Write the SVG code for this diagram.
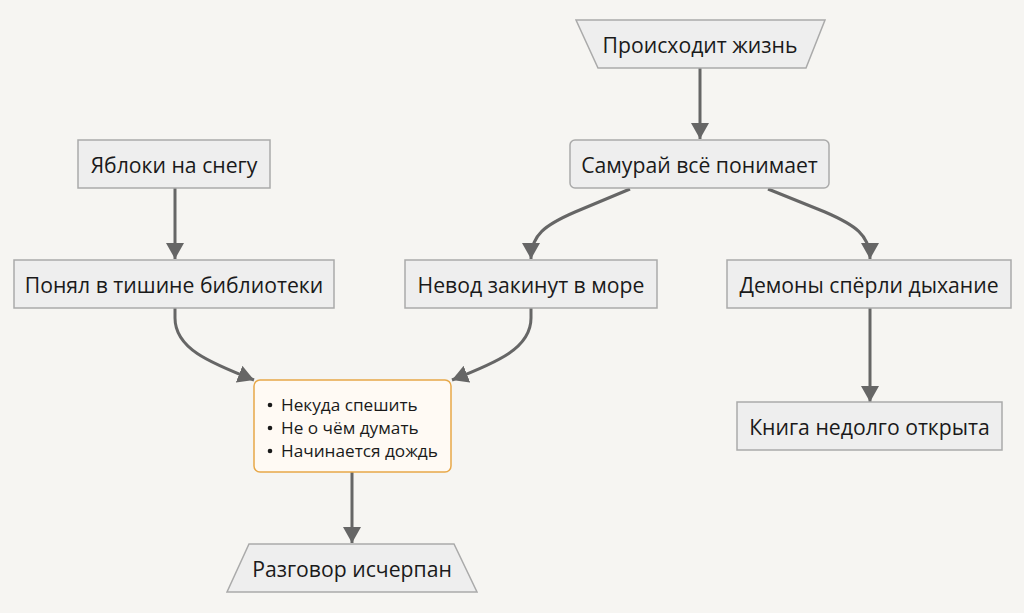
<svg xmlns="http://www.w3.org/2000/svg" width="1024" height="613" viewBox="0 0 1024 613">
<defs>
<style>
.bg{fill:#f6f5f2}
.n{fill:#eeeeee;stroke:#aaaaaa;stroke-width:1.5}
.lst{fill:#fffaf4;stroke:#e8a848;stroke-width:1.5}
.t{font-family:"Open Sans","Noto Sans","DejaVu Sans",sans-serif;font-size:21.2px;fill:#1a1a1a;text-anchor:middle;dominant-baseline:central}
.li{font-family:"Open Sans","Noto Sans","DejaVu Sans",sans-serif;font-size:17.2px;fill:#1a1a1a;dominant-baseline:central}
.e{fill:none;stroke:#666666;stroke-width:3;marker-end:url(#ah)}
</style>
<marker id="ah" viewBox="0 0 16 18" refX="16" refY="9" markerWidth="16" markerHeight="18" markerUnits="userSpaceOnUse" orient="auto">
<path d="M0,0 L16,9 L0,18 z" fill="#666666"/>
</marker>
</defs>
<rect class="bg" x="0" y="0" width="1024" height="613"/>
<g id="edges">
<path class="e" d="M700,68 L700,139"/>
<path class="e" d="M175,188 L175,259"/>
<path class="e" d="M630,189 L575,212 C545,225 531,235 531,259"/>
<path class="e" d="M768,189 L825,212 C855,225 870,235 870,259"/>
<path class="e" d="M870,308 L870,402"/>
<path class="e" d="M175,308 L175,318 C175,348 208,362 254,380"/>
<path class="e" d="M531,308 L531,318 C531,348 498,362 452,380"/>
<path class="e" d="M352,472 L352,543"/>
</g>
<g id="n_life">
<polygon class="n" points="576,20 825,20 806,68 598,68"/>
<text class="t" x="700" y="44">Происходит жизнь</text>
</g>
<g id="n_samurai">
<rect class="n" x="570" y="140" width="259" height="48" rx="5"/>
<text class="t" x="699.5" y="164">Самурай всё понимает</text>
</g>
<g id="n_apples">
<rect class="n" x="78" y="140" width="192" height="48"/>
<text class="t" x="174" y="164">Яблоки на снегу</text>
</g>
<g id="n_library">
<rect class="n" x="14" y="260" width="320" height="48"/>
<text class="t" x="174" y="284">Понял в тишине библиотеки</text>
</g>
<g id="n_net">
<rect class="n" x="405" y="260" width="252" height="48"/>
<text class="t" x="531" y="284">Невод закинут в море</text>
</g>
<g id="n_demons">
<rect class="n" x="727" y="260" width="284" height="48"/>
<text class="t" x="869" y="284">Демоны спёрли дыхание</text>
</g>
<g id="n_book">
<rect class="n" x="737" y="402" width="265" height="48"/>
<text class="t" x="869.5" y="426">Книга недолго открыта</text>
</g>
<g id="n_list">
<rect class="lst" x="254" y="380" width="197" height="92" rx="6"/>
<circle cx="270" cy="405" r="2.3" fill="#1a1a1a"/>
<circle cx="270" cy="428" r="2.3" fill="#1a1a1a"/>
<circle cx="270" cy="451" r="2.3" fill="#1a1a1a"/>
<text class="li" x="281" y="404">Некуда спешить</text>
<text class="li" x="281" y="427">Не о чём думать</text>
<text class="li" x="281" y="450">Начинается дождь</text>
</g>
<g id="n_talk">
<polygon class="n" points="249,544 454,544 477,592 227,592"/>
<text class="t" x="352" y="568">Разговор исчерпан</text>
</g>
</svg>
